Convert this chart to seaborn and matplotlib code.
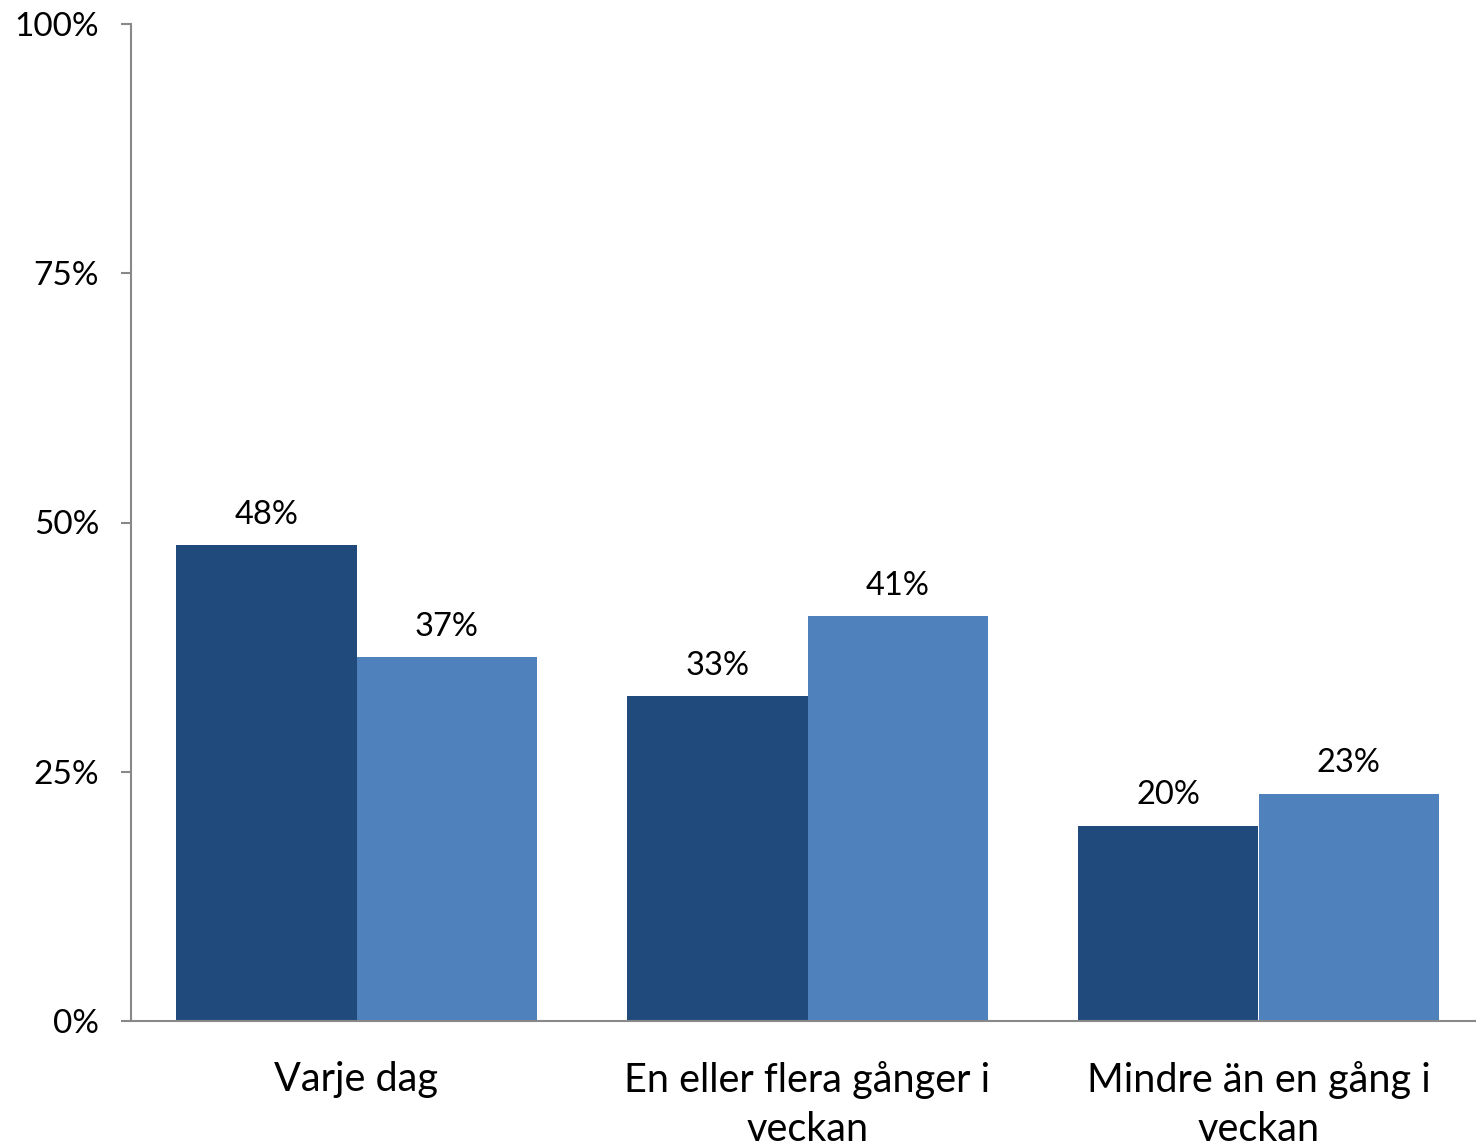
import matplotlib
matplotlib.use("Agg")
import matplotlib.pyplot as plt
import seaborn as sns
import pandas as pd
from matplotlib.ticker import FixedLocator

categories = ["Varje dag", "En eller flera gånger i\nveckan", "Mindre än en gång i\nveckan"]
series_names = ["Serie 1", "Serie 2"]
values_1 = [47.7, 32.6, 19.6]
values_2 = [36.5, 40.6, 22.8]
labels_1 = ["48%", "33%", "20%"]
labels_2 = ["37%", "41%", "23%"]
yticks = [0, 25, 50, 75, 100]
ytick_labels = ["0%", "25%", "50%", "75%", "100%"]

df = pd.DataFrame({
    "kategori": categories * 2,
    "serie": [series_names[0]] * 3 + [series_names[1]] * 3,
    "andel": values_1 + values_2,
})

sns.set_style("white")
plt.rcParams["font.family"] = ["Lato", "DejaVu Sans"]

fig = plt.figure(figsize=(14.76, 11.46), dpi=100)
# the plot area runs a little past the right edge of the picture
ax = fig.add_axes([131 / 1476, 125 / 1146, 1353 / 1476, (1021 - 24) / 1146])

sns.barplot(
    data=df, x="kategori", y="andel", hue="serie",
    palette=["#214A7C", "#4F81BD"], width=0.8, saturation=1,
    linewidth=0, ax=ax, legend=False,
)

for cont, labs in zip(ax.containers, [labels_1, labels_2]):
    ax.bar_label(cont, labels=labs, padding=11, fontsize=23.5, color="black")

ax.set_xlim(-0.5, 2.5)
ax.set_ylim(0, 100)
ax.set_yticks(yticks)
ax.set_yticklabels(ytick_labels, fontsize=24)
ax.set_xlabel("")
ax.set_ylabel("")
ax.tick_params(axis="x", which="major", length=0, pad=29, labelsize=28.5, labelcolor="black")
ax.xaxis.set_minor_locator(FixedLocator([-0.5, 0.5, 1.5, 2.5]))
ax.tick_params(axis="x", which="minor", length=8, width=1.5, color="#888888", direction="out")
ax.tick_params(axis="y", length=7, width=1.5, color="#888888", direction="out", pad=16,
               left=True, labelcolor="black")
for lab in ax.get_xticklabels():
    lab.set_linespacing(1.4)

for s in ["top", "right"]:
    ax.spines[s].set_visible(False)
for s in ["left", "bottom"]:
    ax.spines[s].set_color("#888888")
    ax.spines[s].set_linewidth(1.5)

fig.savefig("out.png", dpi=100)
